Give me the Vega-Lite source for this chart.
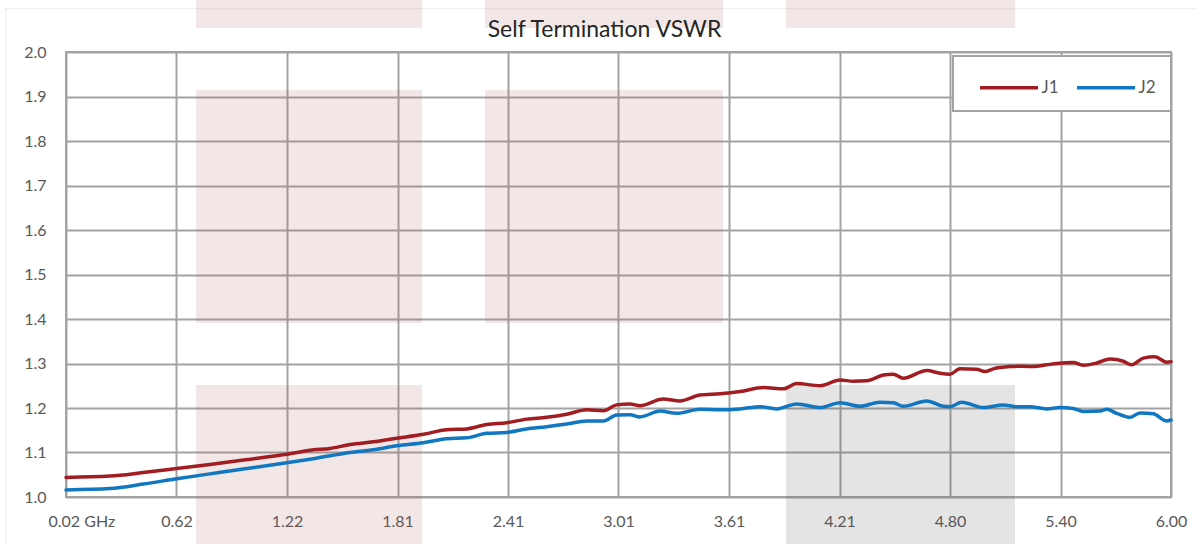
{
  "$schema": "https://vega.github.io/schema/vega-lite/v6.json",
  "width": 1105,
  "height": 445,
  "autosize": {"type": "none"},
  "padding": {"left": 66, "top": 52, "right": 25, "bottom": 47},
  "background": "white",
  "config": {
    "font": "Lato",
    "view": {"stroke": "#a3a3a3", "strokeWidth": 2},
    "legend": {"strokeWidth": 2},
    "axis": {
      "domain": false,
      "ticks": false,
      "grid": true,
      "gridColor": "#a3a3a3",
      "gridWidth": 2,
      "gridOpacity": 1,
      "labelColor": "#595959",
      "labelFontSize": 16,
      "labelFont": "Lato",
      "title": null
    }
  },
  "title": {
    "text": "Self Termination VSWR",
    "fontSize": 23,
    "fontWeight": "normal",
    "font": "Lato",
    "color": "#262626",
    "anchor": "middle",
    "frame": "group",
    "dx": -14,
    "offset": -42
  },
  "datasets": {
    "shades": [
      {"x0": 0.7235, "x1": 1.9466, "y0": 2.1169, "y1": 2.0539, "kind": "pink"},
      {"x0": 2.2876, "x1": 3.5756, "y0": 2.1169, "y1": 2.0539, "kind": "pink"},
      {"x0": 3.9165, "x1": 5.1558, "y0": 2.1169, "y1": 2.0539, "kind": "pink"},
      {"x0": 0.7235, "x1": 1.9466, "y0": 1.9146, "y1": 1.391, "kind": "pink"},
      {"x0": 2.2876, "x1": 3.5756, "y0": 1.9146, "y1": 1.391, "kind": "pink"},
      {"x0": 0.7235, "x1": 1.9466, "y0": 1.2517, "y1": 0.89, "kind": "pink"},
      {"x0": 3.9165, "x1": 5.1558, "y0": 1.2517, "y1": 0.89, "kind": "grey"},
      {"x0": -0.3087, "x1": 6.2, "y0": 2.0995, "y1": 2.0961, "kind": "frame"},
      {"x0": -0.3087, "x1": -0.3006, "y0": 2.0995, "y1": 0.88, "kind": "frame"}
    ],
    "curves": [
      {"f": 0.02, "port": "J1", "vswr": 1.044},
      {"f": 0.258, "port": "J1", "vswr": 1.047},
      {"f": 0.438, "port": "J1", "vswr": 1.055},
      {"f": 0.619, "port": "J1", "vswr": 1.064},
      {"f": 0.799, "port": "J1", "vswr": 1.073},
      {"f": 0.98, "port": "J1", "vswr": 1.083},
      {"f": 1.214, "port": "J1", "vswr": 1.096},
      {"f": 1.358, "port": "J1", "vswr": 1.106},
      {"f": 1.449, "port": "J1", "vswr": 1.109},
      {"f": 1.557, "port": "J1", "vswr": 1.118},
      {"f": 1.683, "port": "J1", "vswr": 1.124},
      {"f": 1.81, "port": "J1", "vswr": 1.132},
      {"f": 1.954, "port": "J1", "vswr": 1.141},
      {"f": 2.08, "port": "J1", "vswr": 1.151},
      {"f": 2.189, "port": "J1", "vswr": 1.153},
      {"f": 2.297, "port": "J1", "vswr": 1.163},
      {"f": 2.405, "port": "J1", "vswr": 1.167},
      {"f": 2.513, "port": "J1", "vswr": 1.175},
      {"f": 2.621, "port": "J1", "vswr": 1.179},
      {"f": 2.73, "port": "J1", "vswr": 1.186},
      {"f": 2.838, "port": "J1", "vswr": 1.196},
      {"f": 2.928, "port": "J1", "vswr": 1.194},
      {"f": 3.0, "port": "J1", "vswr": 1.207},
      {"f": 3.072, "port": "J1", "vswr": 1.209},
      {"f": 3.126, "port": "J1", "vswr": 1.205},
      {"f": 3.252, "port": "J1", "vswr": 1.22},
      {"f": 3.343, "port": "J1", "vswr": 1.216},
      {"f": 3.451, "port": "J1", "vswr": 1.229},
      {"f": 3.559, "port": "J1", "vswr": 1.232},
      {"f": 3.668, "port": "J1", "vswr": 1.237},
      {"f": 3.794, "port": "J1", "vswr": 1.246},
      {"f": 3.902, "port": "J1", "vswr": 1.243},
      {"f": 3.974, "port": "J1", "vswr": 1.255},
      {"f": 4.101, "port": "J1", "vswr": 1.25},
      {"f": 4.209, "port": "J1", "vswr": 1.263},
      {"f": 4.281, "port": "J1", "vswr": 1.26},
      {"f": 4.353, "port": "J1", "vswr": 1.261},
      {"f": 4.443, "port": "J1", "vswr": 1.274},
      {"f": 4.497, "port": "J1", "vswr": 1.276},
      {"f": 4.551, "port": "J1", "vswr": 1.267},
      {"f": 4.678, "port": "J1", "vswr": 1.284},
      {"f": 4.75, "port": "J1", "vswr": 1.278},
      {"f": 4.804, "port": "J1", "vswr": 1.276},
      {"f": 4.858, "port": "J1", "vswr": 1.288},
      {"f": 4.948, "port": "J1", "vswr": 1.287},
      {"f": 4.993, "port": "J1", "vswr": 1.282},
      {"f": 5.038, "port": "J1", "vswr": 1.288},
      {"f": 5.129, "port": "J1", "vswr": 1.293},
      {"f": 5.201, "port": "J1", "vswr": 1.294},
      {"f": 5.255, "port": "J1", "vswr": 1.293},
      {"f": 5.327, "port": "J1", "vswr": 1.297},
      {"f": 5.381, "port": "J1", "vswr": 1.3},
      {"f": 5.471, "port": "J1", "vswr": 1.302},
      {"f": 5.525, "port": "J1", "vswr": 1.296},
      {"f": 5.598, "port": "J1", "vswr": 1.301},
      {"f": 5.67, "port": "J1", "vswr": 1.31},
      {"f": 5.742, "port": "J1", "vswr": 1.305},
      {"f": 5.787, "port": "J1", "vswr": 1.297},
      {"f": 5.85, "port": "J1", "vswr": 1.312},
      {"f": 5.913, "port": "J1", "vswr": 1.315},
      {"f": 5.977, "port": "J1", "vswr": 1.303},
      {"f": 6.0, "port": "J1", "vswr": 1.304},
      {"f": 0.02, "port": "J2", "vswr": 1.016},
      {"f": 0.258, "port": "J2", "vswr": 1.019},
      {"f": 0.438, "port": "J2", "vswr": 1.029},
      {"f": 0.619, "port": "J2", "vswr": 1.041},
      {"f": 0.799, "port": "J2", "vswr": 1.052},
      {"f": 0.98, "port": "J2", "vswr": 1.063},
      {"f": 1.214, "port": "J2", "vswr": 1.077},
      {"f": 1.358, "port": "J2", "vswr": 1.086},
      {"f": 1.557, "port": "J2", "vswr": 1.1},
      {"f": 1.683, "port": "J2", "vswr": 1.106},
      {"f": 1.81, "port": "J2", "vswr": 1.115},
      {"f": 1.954, "port": "J2", "vswr": 1.122},
      {"f": 2.08, "port": "J2", "vswr": 1.131},
      {"f": 2.189, "port": "J2", "vswr": 1.133},
      {"f": 2.297, "port": "J2", "vswr": 1.143},
      {"f": 2.405, "port": "J2", "vswr": 1.145},
      {"f": 2.513, "port": "J2", "vswr": 1.153},
      {"f": 2.621, "port": "J2", "vswr": 1.158},
      {"f": 2.73, "port": "J2", "vswr": 1.164},
      {"f": 2.838, "port": "J2", "vswr": 1.171},
      {"f": 2.928, "port": "J2", "vswr": 1.171},
      {"f": 3.0, "port": "J2", "vswr": 1.184},
      {"f": 3.072, "port": "J2", "vswr": 1.185},
      {"f": 3.126, "port": "J2", "vswr": 1.18},
      {"f": 3.235, "port": "J2", "vswr": 1.193},
      {"f": 3.325, "port": "J2", "vswr": 1.188},
      {"f": 3.451, "port": "J2", "vswr": 1.197},
      {"f": 3.559, "port": "J2", "vswr": 1.196},
      {"f": 3.668, "port": "J2", "vswr": 1.198},
      {"f": 3.776, "port": "J2", "vswr": 1.203},
      {"f": 3.866, "port": "J2", "vswr": 1.198},
      {"f": 3.974, "port": "J2", "vswr": 1.209},
      {"f": 4.101, "port": "J2", "vswr": 1.201},
      {"f": 4.209, "port": "J2", "vswr": 1.212},
      {"f": 4.317, "port": "J2", "vswr": 1.204},
      {"f": 4.425, "port": "J2", "vswr": 1.213},
      {"f": 4.497, "port": "J2", "vswr": 1.212},
      {"f": 4.551, "port": "J2", "vswr": 1.204},
      {"f": 4.678, "port": "J2", "vswr": 1.216},
      {"f": 4.768, "port": "J2", "vswr": 1.204},
      {"f": 4.804, "port": "J2", "vswr": 1.203},
      {"f": 4.867, "port": "J2", "vswr": 1.213},
      {"f": 4.984, "port": "J2", "vswr": 1.201},
      {"f": 5.092, "port": "J2", "vswr": 1.207},
      {"f": 5.165, "port": "J2", "vswr": 1.203},
      {"f": 5.237, "port": "J2", "vswr": 1.203},
      {"f": 5.327, "port": "J2", "vswr": 1.198},
      {"f": 5.399, "port": "J2", "vswr": 1.201},
      {"f": 5.471, "port": "J2", "vswr": 1.199},
      {"f": 5.525, "port": "J2", "vswr": 1.192},
      {"f": 5.616, "port": "J2", "vswr": 1.193},
      {"f": 5.652, "port": "J2", "vswr": 1.197},
      {"f": 5.706, "port": "J2", "vswr": 1.188},
      {"f": 5.778, "port": "J2", "vswr": 1.179},
      {"f": 5.832, "port": "J2", "vswr": 1.189},
      {"f": 5.904, "port": "J2", "vswr": 1.187},
      {"f": 5.977, "port": "J2", "vswr": 1.171},
      {"f": 6.0, "port": "J2", "vswr": 1.173}
    ]
  },
  "layer": [
    {
      "data": {"name": "shades"},
      "mark": {"type": "rect", "clip": false, "strokeWidth": 0},
      "encoding": {
        "x": {"field": "x0", "type": "quantitative", "scale": {"domain": [0.02, 6], "nice": false, "zero": false},
          "axis": {
            "values": [0.02, 0.618, 1.216, 1.814, 2.412, 3.01, 3.608, 4.206, 4.804, 5.402, 6.0],
            "format": ".2f",
            "labelExpr": "datum.value < 0.1 ? datum.label + ' GHz' : datum.label",
            "labelFlush": false,
            "labelAlign": {"condition": {"test": "datum.value < 0.1", "value": "left"}, "value": "center"},
            "labelOffset": {"condition": {"test": "datum.value < 0.1", "value": -18}, "value": 0},
            "labelPadding": 16
          }},
        "x2": {"field": "x1"},
        "y": {"field": "y0", "type": "quantitative", "scale": {"domain": [1, 2], "nice": false, "zero": false},
          "axis": {
            "values": [1, 1.1, 1.2, 1.3, 1.4, 1.5, 1.6, 1.7, 1.8, 1.9, 2],
            "format": ".1f",
            "labelPadding": 20
          }},
        "y2": {"field": "y1"},
        "fill": {"field": "kind", "type": "nominal", "scale": {"domain": ["pink", "grey", "frame"], "range": ["#a85858", "#4b4b4b", "#a3a3a3"]}, "legend": null},
        "fillOpacity": {"field": "kind", "type": "nominal", "scale": {"domain": ["pink", "grey", "frame"], "range": [0.15, 0.15, 1]}, "legend": null}
      }
    },
    {
      "data": {"name": "curves"},
      "mark": {"type": "line", "strokeWidth": 3.5, "interpolate": "monotone", "strokeCap": "round"},
      "encoding": {
        "x": {"field": "f", "type": "quantitative"},
        "y": {"field": "vswr", "type": "quantitative"},
        "color": {
          "field": "port",
          "type": "nominal",
          "scale": {"domain": ["J1", "J2"], "range": ["#a11d21", "#1177c0"]},
          "legend": {
            "title": null,
            "orient": "none",
            "legendX": 887,
            "legendY": 4,
            "direction": "horizontal",
            "columns": 2,
            "fillColor": "white",
            "strokeColor": "#a3a3a3",
            "padding": 15,
            "symbolType": "M-2,0H2",
            "symbolSize": 841,
            "symbolStrokeWidth": 3.5,
            "symbolOffset": 24.5,
            "labelOffset": 16,
            "columnPadding": 6,
            "labelFontSize": 17,
            "labelColor": "#595959",
            "labelFont": "Lato"
          }
        }
      }
    }
  ]
}
